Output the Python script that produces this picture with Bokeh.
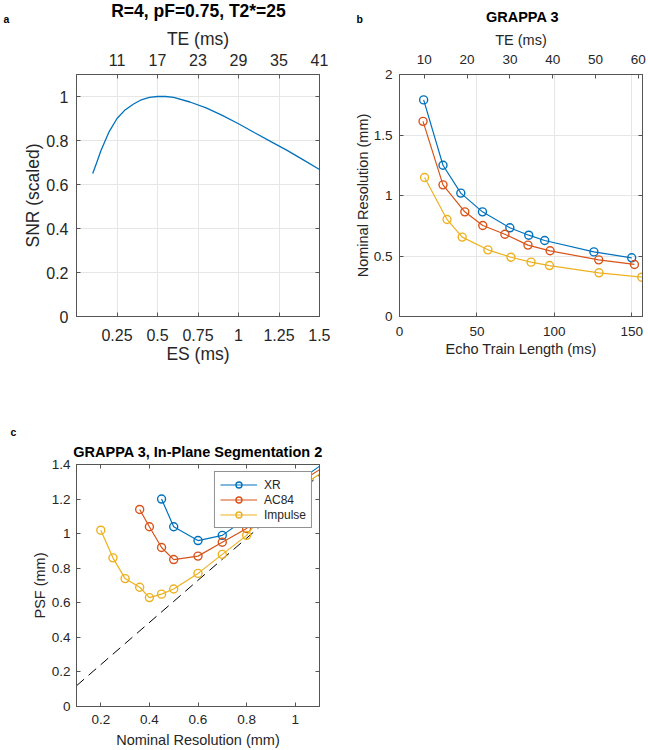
from bokeh.plotting import figure
from bokeh.models import (Range1d, LinearAxis, FixedTicker, CustomJSTickFormatter,
                          Label, Legend, LegendItem, Title)
from bokeh.layouts import column, row
from bokeh.embed import file_html
from bokeh.resources import INLINE

FONT = "Liberation Sans"
TXT = "#262626"
AX = "#555555"
GRID = "#e6e6e6"
BLUE = "#0072BD"
RED = "#D95319"
YEL = "#EDB120"

# ---------------- Panel a data ----------------
a_title = "R=4, pF=0.75, T2*=25"
es_ms = [0.10, 0.125, 0.15, 0.175, 0.20, 0.25, 0.30, 0.35, 0.40, 0.45, 0.50,
         0.55, 0.60, 0.70, 0.80, 0.90, 1.00, 1.10, 1.20, 1.30, 1.40, 1.50]
snr_scaled = [0.650, 0.700, 0.752, 0.795, 0.838, 0.900, 0.939, 0.965, 0.985, 0.996, 1.000,
              1.000, 0.996, 0.975, 0.948, 0.914, 0.876, 0.835, 0.795, 0.755, 0.712, 0.668]
a_es_ticks = [0.25, 0.5, 0.75, 1, 1.25, 1.5]
a_snr_ticks = [0, 0.2, 0.4, 0.6, 0.8, 1]
a_te_ticks = [11, 17, 23, 29, 35, 41]
a_te_range = [5, 41]          # TE at ES = 0 and ES = 1.5

# ---------------- Panel b data ----------------
b_title = "GRAPPA 3"
etl_xr = [15.6, 28.1, 39.6, 53.6, 71.3, 83.5, 93.8, 125.6, 150.0]
res_xr = [1.79, 1.25, 1.02, 0.865, 0.733, 0.672, 0.628, 0.534, 0.485]
etl_ac84 = [15.2, 28.1, 42.2, 53.8, 68.1, 83.0, 97.3, 128.7, 151.8]
res_ac84 = [1.613, 1.088, 0.865, 0.752, 0.680, 0.590, 0.543, 0.468, 0.430]
etl_imp = [16.2, 30.7, 40.5, 57.1, 72.0, 85.0, 96.9, 128.9, 156.5]
res_imp = [1.149, 0.802, 0.656, 0.551, 0.490, 0.449, 0.421, 0.361, 0.325]
b_etl_ticks = [0, 50, 100, 150]
b_res_ticks = [0, 0.5, 1, 1.5, 2]
b_te_ticks = [10, 20, 30, 40, 50, 60]
b_te_range = [4.22, 60.97]    # TE at ETL = 0 and ETL = 157

# ---------------- Panel c data ----------------
c_title = "GRAPPA 3, In-Plane Segmentation 2"
nom_xr = [0.45, 0.50, 0.60, 0.70, 0.80, 0.90, 1.00, 1.20]
psf_xr = [1.20, 1.04, 0.96, 0.99, 1.09, 1.18, 1.29, 1.49]
nom_ac84 = [0.36, 0.40, 0.45, 0.50, 0.60, 0.70, 0.80, 0.90, 1.00, 1.20]
psf_ac84 = [1.14, 1.04, 0.92, 0.85, 0.87, 0.95, 1.03, 1.19, 1.28, 1.46]
nom_imp = [0.20, 0.25, 0.30, 0.36, 0.40, 0.45, 0.50, 0.60, 0.70, 0.80, 0.90, 1.00, 1.20]
psf_imp = [1.02, 0.86, 0.74, 0.69, 0.63, 0.65, 0.68, 0.77, 0.88, 0.99, 1.17, 1.25, 1.44]
ideal_x = [0.1, 1.1]
ideal_y = [0.12, 1.34]
c_nom_ticks = [0.2, 0.4, 0.6, 0.8, 1]
c_psf_ticks = [0, 0.2, 0.4, 0.6, 0.8, 1, 1.2, 1.4]

FMT = "return String(tick);"


def style_axis(ax, tick_px, label_px, standoff, label_standoff, show_labels=True):
    ax.axis_line_color = AX
    ax.axis_line_width = 1
    ax.major_tick_line_color = AX
    ax.major_tick_line_width = 1
    ax.major_tick_in = 4
    ax.major_tick_out = 0
    ax.minor_tick_line_color = None
    ax.major_label_text_font = FONT
    ax.major_label_text_font_size = f"{tick_px}px"
    ax.major_label_text_color = TXT
    ax.major_label_standoff = standoff
    ax.axis_label_text_font = FONT
    ax.axis_label_text_font_style = "normal"
    ax.axis_label_text_font_size = f"{label_px}px"
    ax.axis_label_text_color = TXT
    ax.axis_label_standoff = label_standoff
    if show_labels:
        ax.formatter = CustomJSTickFormatter(code=FMT)
    else:
        ax.formatter = CustomJSTickFormatter(code="return '';")
        ax.major_label_standoff = 0


def base_fig(w, h, xr, yr, left, right, top, bottom):
    p = figure(width=w, height=h, x_range=xr, y_range=yr, title=None,
               output_backend="svg", toolbar_location=None,
               min_border_left=left, min_border_right=right,
               min_border_top=top, min_border_bottom=bottom)
    p.outline_line_color = AX
    p.outline_line_width = 1
    p.background_fill_color = "white"
    p.border_fill_color = "white"
    return p


def text_label(p, x, y, text, size):
    p.add_layout(Label(x=x, y=y, text=text, text_font=FONT,
                       text_font_size=f"{size}px", text_font_style="bold", text_color="black",
                       text_align="center", text_baseline="middle"))


W = 648
HT = 25             # header strip holding panel letters / titles of the upper row
H1 = 420            # bottom of the upper row
WA, WB = 330, 318
FRAME_TOP = 74

# ---------- header strip for panels a and b (data units = pixels, y up) ----------
head = figure(width=W, height=HT, x_range=Range1d(0, W), y_range=Range1d(0, HT), title=None,
              output_backend="svg", toolbar_location=None,
              x_axis_location=None, y_axis_location=None, min_border=0)
head.outline_line_color = None
head.xgrid.visible = False
head.ygrid.visible = False
text_label(head, 6, HT - 18.5, "a", 10.5)
text_label(head, 198, HT - 10.8, a_title, 17.5)
text_label(head, 359.3, HT - 18.0, "b", 10.5)
text_label(head, 522, HT - 16.5, b_title, 14.5)

# ================= Panel a =================
pa = base_fig(WA, H1 - HT, Range1d(0, 1.5), Range1d(0, 1.1), 76, WA - 76 - 243,
              FRAME_TOP - HT, H1 - 316)
pa.extra_x_ranges = {"te": Range1d(a_te_range[0], a_te_range[1])}
pa.xaxis[0].ticker = FixedTicker(ticks=a_es_ticks)
pa.yaxis[0].ticker = FixedTicker(ticks=a_snr_ticks)
pa.xaxis[0].axis_label = "ES (ms)"
pa.yaxis[0].axis_label = "SNR (scaled)"
style_axis(pa.xaxis[0], 16, 17.5, 12, 0)
style_axis(pa.yaxis[0], 16, 17.5, 8, 0)
a_top = LinearAxis(x_range_name="te", ticker=FixedTicker(ticks=a_te_ticks), axis_label="TE (ms)")
style_axis(a_top, 16, 17.5, 9, 2)
pa.add_layout(a_top, "above")
a_right = LinearAxis(ticker=FixedTicker(ticks=a_snr_ticks))
style_axis(a_right, 16, 17.5, 0, 0, show_labels=False)
pa.add_layout(a_right, "right")
pa.xgrid.grid_line_color = GRID
pa.ygrid.grid_line_color = GRID
pa.line(es_ms, snr_scaled, line_color=BLUE, line_width=1.3)

# ================= Panel b =================
pb = base_fig(WB, H1 - HT, Range1d(0, 157), Range1d(0, 2), 69, WB - 69 - 243,
              FRAME_TOP - HT, H1 - 316)
pb.extra_x_ranges = {"te": Range1d(b_te_range[0], b_te_range[1])}
pb.xaxis[0].ticker = FixedTicker(ticks=b_etl_ticks)
pb.yaxis[0].ticker = FixedTicker(ticks=b_res_ticks)
pb.xaxis[0].axis_label = "Echo Train Length (ms)"
pb.yaxis[0].axis_label = "Nominal Resolution (mm)"
style_axis(pb.xaxis[0], 13.5, 14.5, 10, 2)
style_axis(pb.yaxis[0], 13.5, 14.5, 7, 0)
b_top = LinearAxis(x_range_name="te", ticker=FixedTicker(ticks=b_te_ticks), axis_label="TE (ms)")
style_axis(b_top, 13.5, 14.5, 11, 4)
pb.add_layout(b_top, "above")
b_right = LinearAxis(ticker=FixedTicker(ticks=b_res_ticks))
style_axis(b_right, 13.5, 14.5, 0, 0, show_labels=False)
pb.add_layout(b_right, "right")
pb.xgrid.grid_line_color = GRID
pb.ygrid.grid_line_color = GRID
for xs, ys, col in [(etl_xr, res_xr, BLUE), (etl_ac84, res_ac84, RED), (etl_imp, res_imp, YEL)]:
    pb.line(xs, ys, line_color=col, line_width=1.2)
    pb.scatter(xs, ys, marker="circle", size=8, fill_color=None, line_color=col, line_width=1.4)

# ================= Panel c =================
H2 = 750 - H1
pc = base_fig(WA, H2, Range1d(0.1, 1.1), Range1d(0, 1.4), 76, WA - 76 - 243, 464 - H1, 750 - 706)
pc.xaxis[0].ticker = FixedTicker(ticks=c_nom_ticks)
pc.yaxis[0].ticker = FixedTicker(ticks=c_psf_ticks)
pc.xaxis[0].axis_label = "Nominal Resolution (mm)"
pc.yaxis[0].axis_label = "PSF (mm)"
style_axis(pc.xaxis[0], 13.5, 14.5, 8, 5)
style_axis(pc.yaxis[0], 13.5, 14.5, 6, 1)
c_top = LinearAxis(ticker=FixedTicker(ticks=c_nom_ticks))
style_axis(c_top, 13.5, 14.5, 0, 0, show_labels=False)
pc.add_layout(c_top, "above")
c_right = LinearAxis(ticker=FixedTicker(ticks=c_psf_ticks))
style_axis(c_right, 13.5, 14.5, 0, 0, show_labels=False)
pc.add_layout(c_right, "right")
pc.add_layout(Title(text=c_title, align="center", vertical_align="bottom", standoff=10,
                    text_font=FONT, text_font_size="14.5px", text_font_style="bold",
                    text_color="black"), "above")
pc.add_layout(Title(text="c", align="left", offset=-66, vertical_align="bottom", standoff=-2,
                    text_font=FONT, text_font_size="10.5px", text_font_style="bold",
                    text_color="black"), "above")
pc.xgrid.visible = False
pc.ygrid.visible = False
pc.line(ideal_x, ideal_y, line_color="black", line_width=1, line_dash="10 6")
items = []
for xs, ys, col, name in [(nom_xr, psf_xr, BLUE, "XR"), (nom_ac84, psf_ac84, RED, "AC84"),
                          (nom_imp, psf_imp, YEL, "Impulse")]:
    lr = pc.line(xs, ys, line_color=col, line_width=1.2)
    sr = pc.scatter(xs, ys, marker="circle", size=8, fill_color=None, line_color=col, line_width=1.4)
    items.append(LegendItem(label=name, renderers=[lr, sr]))
leg = Legend(items=items, location="top_right", margin=7, padding=5, spacing=0,
             glyph_width=37, glyph_height=15, label_height=15, label_standoff=7,
             label_text_font=FONT, label_text_font_size="12px", label_text_color=TXT,
             border_line_color="#262626", border_line_width=1,
             background_fill_color="white", background_fill_alpha=1.0)
pc.add_layout(leg, "center")

layout = column(row(head), row(pa, pb), row(pc))
open("out.html", "w").write(file_html(layout, INLINE))
